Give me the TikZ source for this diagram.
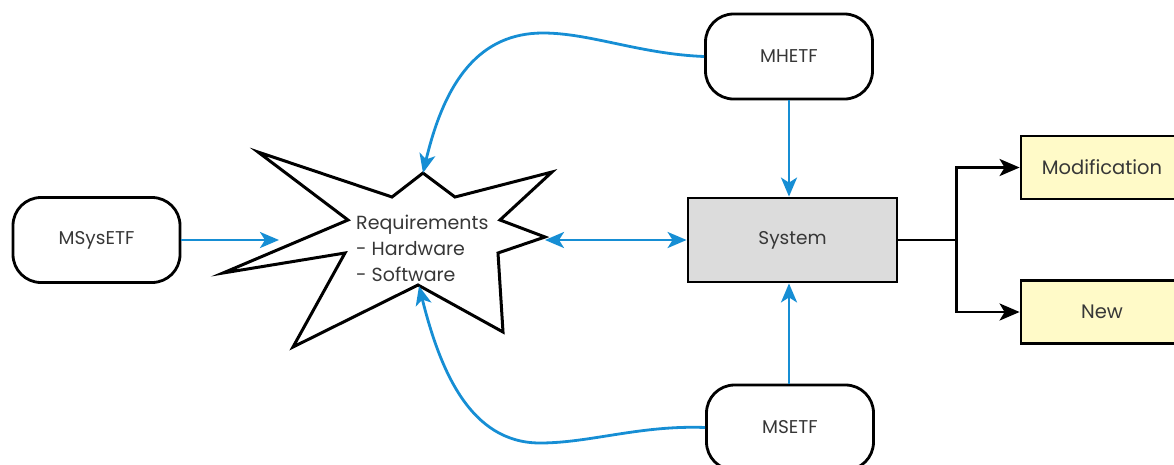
\documentclass[tikz,border=0pt]{standalone}
\usepackage{fontspec}
\setmainfont{Poppins}
\usetikzlibrary{arrows.meta}
\definecolor{flowblue}{RGB}{22,142,212}
\definecolor{txtgray}{RGB}{55,55,55}
\definecolor{sysgray}{RGB}{220,220,220}
\definecolor{outyellow}{RGB}{255,250,200}
\tikzset{
  roundbox/.style={draw=black, line width=2.8pt, rounded corners=28pt, minimum width=167pt, minimum height=85pt, inner sep=0pt, text=txtgray, font=\fontsize{18.5}{20}\selectfont},
  sysbox/.style={draw=black, line width=2.8pt, fill=sysgray, minimum width=209pt, minimum height=84pt, inner sep=0pt, text=txtgray, font=\fontsize{18.5}{20}\selectfont},
  outbox/.style={draw=black, line width=2.8pt, fill=outyellow, minimum width=162pt, minimum height=63pt, inner sep=0pt, text=txtgray, font=\fontsize{19.5}{21}\selectfont},
  bluearrow/.style={draw=flowblue, line width=2.8pt, -{Stealth[length=19pt,width=16pt,inset=5pt]}},
  bluedouble/.style={draw=flowblue, line width=2.8pt, {Stealth[length=19pt,width=16pt,inset=5pt]}-{Stealth[length=19pt,width=16pt,inset=5pt]}},
  blackarrow/.style={draw=black, line width=2.8pt, -{Stealth[length=20pt,width=17pt,inset=5pt]}},
  starline/.style={draw=black, line width=3pt, line join=miter, miter limit=20},
}
\begin{document}
\begin{tikzpicture}[x=1pt,y=-1pt]
\useasboundingbox (0,0) rectangle (1174,464);
% boxes
\node[roundbox] (mhetf) at (789,56.5) {MHETF};
\node[roundbox] (msysetf) at (96.5,240) {MSysETF};
\node[roundbox] (msetf) at (790,427.5) {MSETF};
\node[sysbox] (system) at (792.5,240) {System};
\node[outbox] (modif) at (1102,167.5) {Modification};
\node[outbox] (new) at (1102,312) {New};
% star
\draw[starline] (258,152) -- (392,197) -- (423,173) -- (455,197) -- (552,172) -- (500,220)
  -- (545,237) -- (498,253) -- (503,332) -- (418,285) -- (293,347) -- (345,253)
  -- (223,273) -- (348,220) -- cycle;
\node[anchor=west, align=left, text=txtgray, font=\fontsize{19}{26}\selectfont, inner sep=0pt] (req) at (356,248) {Requirements\\- Hardware\\- Software};
\coordinate (startop) at (423,173);
\coordinate (starbot) at (419,286);
\coordinate (starleft) at (279,240);
\coordinate (starright) at (545,240);
% blue connectors
\draw[bluearrow] (msysetf.east) -- (starleft);
\draw[bluedouble] (starright) -- (system.west);
\draw[bluearrow] (mhetf.south) -- (mhetf.south |- system.north);
\draw[bluearrow] (msetf.north -| mhetf.south) -- (mhetf.south |- system.south);
\draw[bluearrow] (mhetf.west) .. controls (640,54) and (590,33) .. (543,33)
  .. controls (480,33) and (445,80) .. (startop);
\draw[bluearrow] (msetf.west) .. controls (640,425) and (590,443) .. (540,443)
  .. controls (470,443) and (440,370) .. (starbot);
% black outputs
\draw[draw=black, line width=2.8pt] (system.east) -- ++(58,0) coordinate (split);
\draw[blackarrow] (split) |- (modif.west);
\draw[blackarrow] (split) |- (new.west);
\end{tikzpicture}
\end{document}
